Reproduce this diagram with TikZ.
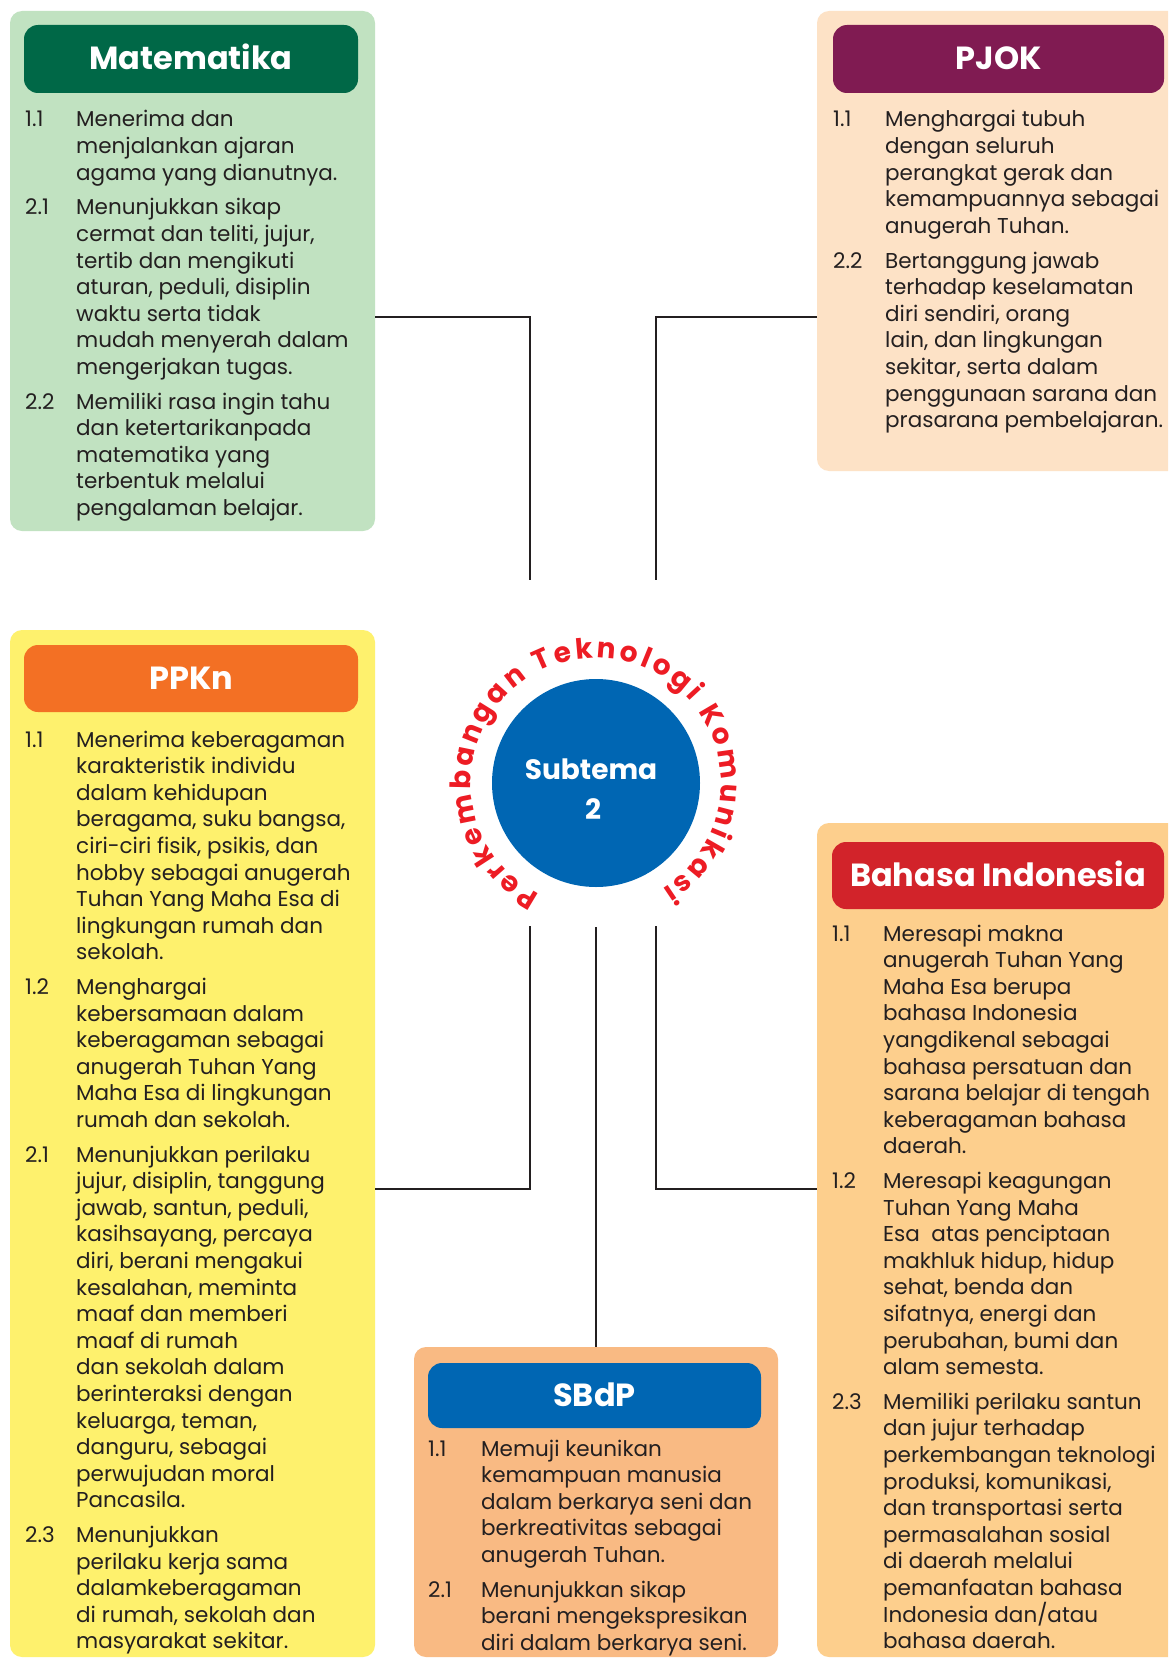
\documentclass[tikz,border=0pt]{standalone}
\usepackage{fontspec}
\setmainfont{Poppins}
\usetikzlibrary{decorations.text}
\definecolor{ink}{HTML}{231F20}
\definecolor{matBg}{HTML}{C1E2C1}
\definecolor{matHd}{HTML}{006847}
\definecolor{pjokBg}{HTML}{FDE2C6}
\definecolor{pjokHd}{HTML}{801B52}
\definecolor{ppknBg}{HTML}{FEF16D}
\definecolor{ppknHd}{HTML}{F37024}
\definecolor{biBg}{HTML}{FDCF8D}
\definecolor{biHd}{HTML}{D2232A}
\definecolor{sbdpBg}{HTML}{F9BA83}
\definecolor{sbdpHd}{HTML}{0066B3}
\definecolor{hubBlue}{HTML}{0066B3}
\definecolor{curveRed}{HTML}{ED1C24}
\newcommand{\mybody}{\fontsize{21.5}{26.6}\selectfont}
\newcommand{\mytitle}{\fontsize{32}{38}\selectfont\bfseries}
\newcommand{\mycurve}{\fontsize{28}{32}\selectfont\bfseries}
\newcommand{\myhub}{\fontsize{28}{36}\selectfont\bfseries}
\tikzset{
  panel/.style={rounded corners=12pt, inner sep=0pt, outer sep=0pt, anchor=north west},
  header/.style={rounded corners=14pt, inner sep=0pt, outer sep=0pt, anchor=north west,
    text=white, font=\mytitle, text height=22pt, text depth=0pt},
  num/.style={anchor=base west, inner sep=0pt, font=\mybody, text=ink},
  itemtext/.style={anchor=base west, inner sep=0pt, font=\mybody, text=ink},
  conn/.style={draw=ink, line width=2pt},
}
\begin{document}
\begin{tikzpicture}[x=1pt,y=1pt]
\useasboundingbox (0,0) rectangle (1168,-1659);
\clip (0,0) rectangle (1168,-1659);
\fill[white] (0,0) rectangle (1168,-1659);

% ---------- Matematika ----------
\node[panel, fill=matBg, minimum width=365pt, minimum height=520pt] (mat) at (10,-11) {};
\node[header, fill=matHd, minimum width=334pt, minimum height=68pt] (matH) at (24,-25) {Matematika};
\node[num] (m11n) at (25,-127) {1.1};
\node[itemtext] (m11) at (76,-127) {\parbox[t]{300pt}{Menerima dan\\menjalankan ajaran\\agama yang dianutnya.}};
\node[num] (m21n) at (25,-214.8) {2.1};
\node[itemtext] (m21) at (76,-214.8) {\parbox[t]{300pt}{Menunjukkan sikap\\cermat dan teliti, jujur,\\tertib dan mengikuti\\aturan, peduli, disiplin\\waktu serta tidak\\mudah menyerah dalam\\mengerjakan tugas.}};
\node[num] (m22n) at (25,-409) {2.2};
\node[itemtext] (m22) at (76,-409) {\parbox[t]{300pt}{Memiliki rasa ingin tahu\\dan ketertarikanpada\\matematika yang\\terbentuk melalui\\pengalaman belajar.}};

% ---------- PJOK ----------
\node[panel, fill=pjokBg, minimum width=373pt, minimum height=460pt] (pjok) at (817,-11) {};
\node[header, fill=pjokHd, minimum width=331pt, minimum height=68pt] (pjokH) at (833,-25) {PJOK};
\node[num] (p11n) at (833,-127) {1.1};
\node[itemtext] (p11) at (885,-127) {\parbox[t]{300pt}{Menghargai tubuh\\dengan seluruh\\perangkat gerak dan\\kemampuannya sebagai\\anugerah Tuhan.}};
\node[num] (p22n) at (833,-268) {2.2};
\node[itemtext] (p22) at (885,-268) {\parbox[t]{300pt}{Bertanggung jawab\\terhadap keselamatan\\diri sendiri, orang\\lain, dan lingkungan\\sekitar, serta dalam\\penggunaan sarana dan\\prasarana pembelajaran.}};

% ---------- PPKn ----------
\node[panel, fill=ppknBg, minimum width=365pt, minimum height=1027pt] (ppkn) at (10,-630) {};
\node[header, fill=ppknHd, minimum width=334pt, minimum height=67pt] (ppknH) at (24,-645) {PPKn};
\node[num] (k11n) at (25,-747) {1.1};
\node[itemtext] (k11) at (76,-747) {\parbox[t]{300pt}{Menerima keberagaman\\karakteristik individu\\dalam kehidupan\\beragama, suku bangsa,\\ciri-ciri fisik, psikis, dan\\hobby sebagai anugerah\\Tuhan Yang Maha Esa di\\lingkungan rumah dan\\sekolah.}};
\node[num] (k12n) at (25,-994.4) {1.2};
\node[itemtext] (k12) at (76,-994.4) {\parbox[t]{300pt}{Menghargai\\kebersamaan dalam\\keberagaman sebagai\\anugerah Tuhan Yang\\Maha Esa di lingkungan\\rumah dan sekolah.}};
\node[num] (k21n) at (25,-1162) {2.1};
\node[itemtext] (k21) at (76,-1162) {\parbox[t]{300pt}{Menunjukkan perilaku\\jujur, disiplin, tanggung\\jawab, santun, peduli,\\kasihsayang, percaya\\diri, berani mengakui\\kesalahan, meminta\\maaf dan memberi\\maaf di rumah\\dan sekolah dalam\\berinteraksi dengan\\keluarga, teman,\\danguru, sebagai\\perwujudan moral\\Pancasila.}};
\node[num] (k23n) at (25,-1542.4) {2.3};
\node[itemtext] (k23) at (76,-1542.4) {\parbox[t]{300pt}{Menunjukkan\\perilaku kerja sama\\dalamkeberagaman\\di rumah, sekolah dan\\masyarakat sekitar.}};

% ---------- Bahasa Indonesia ----------
\node[panel, fill=biBg, minimum width=373pt, minimum height=834pt] (bi) at (817,-823) {};
\node[header, fill=biHd, minimum width=332pt, minimum height=67pt] (biH) at (832,-842) {Bahasa Indonesia};
\node[num] (b11n) at (832,-941) {1.1};
\node[itemtext] (b11) at (883,-941) {\parbox[t]{300pt}{Meresapi makna\\anugerah Tuhan Yang\\Maha Esa berupa\\bahasa Indonesia\\yangdikenal sebagai\\bahasa persatuan dan\\sarana belajar di tengah\\keberagaman bahasa\\daerah.}};
\node[num] (b12n) at (832,-1188.4) {1.2};
\node[itemtext] (b12) at (883,-1188.4) {\parbox[t]{300pt}{Meresapi keagungan\\Tuhan Yang Maha\\Esa\ \ atas penciptaan\\makhluk hidup, hidup\\sehat, benda dan\\sifatnya, energi dan\\perubahan, bumi dan\\alam semesta.}};
\node[num] (b23n) at (832,-1409.2) {2.3};
\node[itemtext] (b23) at (883,-1409.2) {\parbox[t]{300pt}{Memiliki perilaku santun\\dan jujur terhadap\\perkembangan teknologi\\produksi, komunikasi,\\dan transportasi serta\\permasalahan sosial\\di daerah melalui\\pemanfaatan bahasa\\Indonesia dan/atau\\bahasa daerah.}};

% ---------- SBdP ----------
\node[panel, fill=sbdpBg, minimum width=364pt, minimum height=310pt] (sbdp) at (414,-1347) {};
\node[header, fill=sbdpHd, minimum width=333pt, minimum height=65pt] (sbdpH) at (428,-1363) {SBdP};
\node[num] (s11n) at (428,-1456) {1.1};
\node[itemtext] (s11) at (481,-1456) {\parbox[t]{300pt}{Memuji keunikan\\kemampuan manusia\\dalam berkarya seni dan\\berkreativitas sebagai\\anugerah Tuhan.}};
\node[num] (s21n) at (428,-1597) {2.1};
\node[itemtext] (s21) at (481,-1597) {\parbox[t]{300pt}{Menunjukkan sikap\\berani mengekspresikan\\diri dalam berkarya seni.}};

% ---------- Hub ----------
\node[circle, fill=hubBlue, minimum size=208pt, inner sep=0pt] (hub) at (596,-783) {};
\node[anchor=base, inner sep=0pt, text=white, font=\myhub] (hubt) at (591,-779) {Subtema};
\node[anchor=base, inner sep=0pt, text=white, font=\myhub] (hubn) at (593,-819) {2};
\path[decorate, decoration={text along path,
    text={|\mycurve|Perkembangan Teknologi Komunikasi},
    text color=curveRed, text align={fit to path}}]
  ([shift={(243:125)}]hub.center) arc[start angle=243, end angle=-58, radius=125];

% ---------- Connectors ----------
\coordinate (tlEnd) at (530,-580);
\coordinate (trEnd) at (656,-580);
\coordinate (blStart) at (530,-926);
\coordinate (bmStart) at (596,-927);
\coordinate (brStart) at (656,-926);
\draw[conn] (mat.east |- 0,-317) -| (tlEnd);
\draw[conn] (pjok.west |- 0,-317) -| (trEnd);
\draw[conn] (blStart) |- (ppkn.east |- 0,-1189);
\draw[conn] (bmStart) -- (sbdp.north);
\draw[conn] (brStart) |- (bi.west |- 0,-1189);
\end{tikzpicture}
\end{document}
